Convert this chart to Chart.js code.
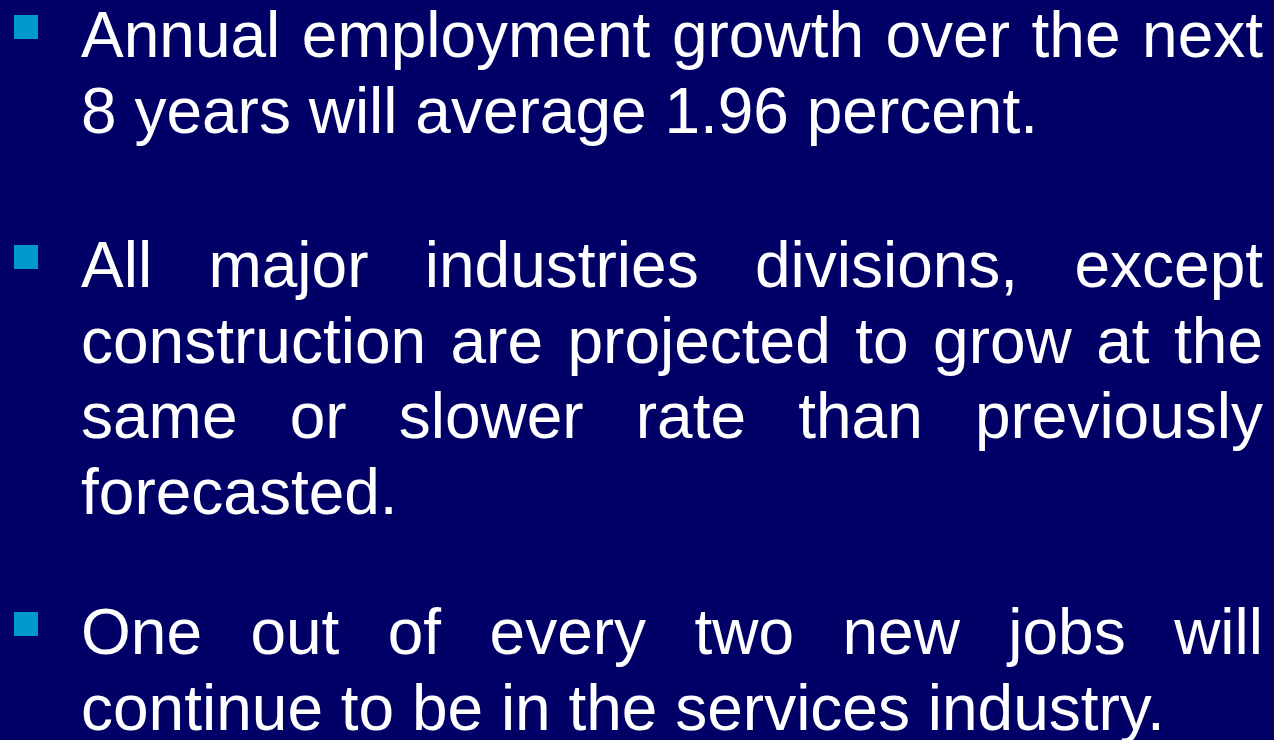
<!DOCTYPE html>
<html>
<head>
<meta charset="utf-8">
<script src="https://cdn.jsdelivr.net/npm/chart.js@4"></script>
<style>
  html, body { margin: 0; padding: 0; background: #000066; overflow: hidden; }
  canvas { display: block; }
</style>
</head>
<body>
<canvas id="slide" width="1274" height="740"></canvas>
<script>
// slide text, one array per bullet, split the way the lines wrap
const bulletOne = [
    "Annual employment growth over the next",
    "8 years will average 1.96 percent."
];
const bulletTwo = [
    "All major industries divisions, except",
    "construction are projected to grow at the",
    "same or slower rate than previously",
    "forecasted."
];
const bulletThree = [
    "One out of every two new jobs will",
    "continue to be in the services industry."
];

const layout = {
    left: 81,
    right: 1263,
    lineHeight: 75.5,
    starts: [57, 287, 654],
    font: '64px "Liberation Sans", Arial, sans-serif'
};

const slidePlugin = {
    id: 'slideText',
    beforeDraw(chart) {
        const ctx = chart.ctx;
        ctx.save();
        ctx.fillStyle = '#000066';
        ctx.fillRect(0, 0, chart.width, chart.height);
        ctx.restore();
    },
    afterDraw(chart) {
        const ctx = chart.ctx;
        ctx.save();
        ctx.font = layout.font;
        ctx.textBaseline = 'alphabetic';
        ctx.textAlign = 'left';

        [bulletOne, bulletTwo, bulletThree].forEach((lines, p) => {
            const top = layout.starts[p];
            // square bullet
            ctx.fillStyle = '#0099CC';
            ctx.fillRect(14, top - 42, 24, 24);

            ctx.fillStyle = '#ffffff';
            lines.forEach((line, i) => {
                const y = top + i * layout.lineHeight;
                const last = i === lines.length - 1;
                if (last) {
                    ctx.fillText(line, layout.left, y);
                    return;
                }
                // justified line
                const words = line.split(' ');
                const widths = words.map(w => ctx.measureText(w).width);
                const sum = widths.reduce((a, b) => a + b, 0);
                const gap = (layout.right - layout.left - sum) / (words.length - 1);
                let x = layout.left;
                words.forEach((w, k) => {
                    ctx.fillText(w, x, y);
                    x += widths[k] + gap;
                });
            });
        });
        ctx.restore();
    }
};

new Chart(document.getElementById('slide').getContext('2d'), {
    type: 'scatter',
    data: { datasets: [] },
    options: {
        responsive: false,
        animation: false,
        layout: { padding: 0 },
        plugins: { legend: { display: false }, tooltip: { enabled: false } },
        scales: { x: { display: false }, y: { display: false } }
    },
    plugins: [slidePlugin]
});
</script>
</body>
</html>
